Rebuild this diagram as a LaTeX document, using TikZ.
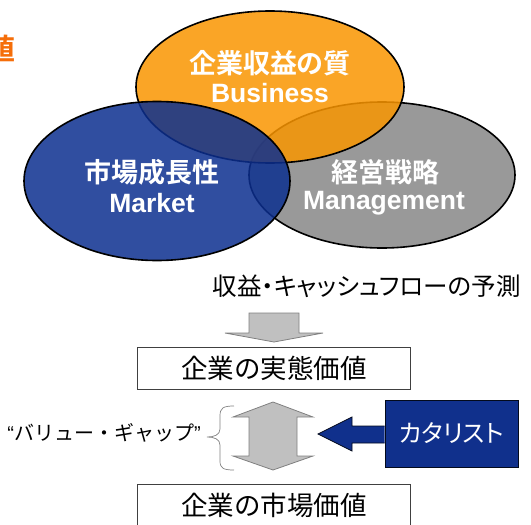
\documentclass[tikz,border=0pt]{standalone}
\usepackage{fontspec}
\setmainfont{Liberation Sans}
\newfontfamily\jp[BoldFont=* Bold]{Noto Sans CJK JP}
\newfontfamily\jpp[RawFeature=+palt]{Noto Sans CJK JP}
\usetikzlibrary{shapes.geometric}
\definecolor{vorange}{RGB}{249,149,0}
\definecolor{vblue}{RGB}{12,47,143}
\definecolor{vgrey}{RGB}{135,135,135}
\definecolor{arrgrey}{RGB}{192,192,192}
\definecolor{catblue}{RGB}{16,48,140}
\definecolor{headorange}{RGB}{245,110,10}
\begin{document}
\begin{tikzpicture}[x=1pt,y=-1pt,
  venn/.style={ellipse, draw=black, line width=1.6pt, fill opacity=0.85, inner sep=0pt},
  vjp/.style={text=white, inner sep=0pt, font=\jp\bfseries\fontsize{27}{30}\selectfont},
  ven/.style={text=white, inner sep=0pt, font=\bfseries\fontsize{26.5}{30}\selectfont},
  valbox/.style={draw=black!75, line width=0.8pt, fill=white, minimum width=273pt, minimum height=42pt, inner sep=0pt, font=\jp\fontsize{26.5}{30}\selectfont},
  garrow/.style={draw=black!50, line width=0.8pt, fill=arrgrey},
  plain/.style={inner sep=0pt, font=\jpp\fontsize{24.5}{28}\selectfont}
]
\useasboundingbox (0,0) rectangle (531,525);

% heading fragment
\node[anchor=east, inner sep=0pt, text=headorange, font=\jp\bfseries\fontsize{30}{32}\selectfont] (head) at (16,49) {値};

% Venn ellipses
\node[venn, fill=vgrey, minimum width=266pt, minimum height=146pt] (mgmt) at (382,175) {};
\node[venn, fill=vorange, minimum width=268pt, minimum height=152pt] (biz) at (270,87) {};
\node[venn, fill=vblue, minimum width=266pt, minimum height=159pt] (mkt) at (157,181) {};

\node[vjp] (bizj) at (270,63) {企業収益の質};
\node[ven] (bize) at (270,93) {Business};
\node[vjp] (mktj) at (152,172) {市場成長性};
\node[ven] (mkte) at (152,203) {Market};
\node[vjp] (mgmtj) at (385,172) {経営戦略};
\node[ven] (mgmte) at (384,203) {Management};

% forecast text
\node[plain, anchor=east] (fc) at (521,286) {収益・キャッシュフローの予測};

% down arrow
\draw[garrow] (249,313) -- (299,313) -- (299,333) -- (323,333) -- (274,342) -- (225,333) -- (249,333) -- cycle;

% value boxes
\node[valbox] (intr) at (274,368.5) {企業の実態価値};
\node[valbox] (mktv) at (274,505.5) {企業の市場価値};

% double arrow
\draw[garrow] (273,402) -- (313,417) -- (297,417) -- (297,456) -- (313,456) -- (273,470) -- (233,456) -- (249,456) -- (249,417) -- (233,417) -- cycle;

% brace
\draw[black!50, line width=0.7pt] (234,406) .. controls (223,406) and (220,408) .. (220,416) -- (220,429) .. controls (220,435) and (214,437) .. (207,437) .. controls (214,437) and (220,439) .. (220,445) -- (220,461) .. controls (220,468) and (223,470) .. (234,470);

\node[inner sep=0pt, anchor=east, font=\jp\fontsize{20}{24}\selectfont] (gap) at (201,433) {{\rmfamily “}バリュー・ギャップ{\rmfamily ”}};

% catalyst
\node[draw=black!80!catblue, line width=0.8pt, fill=catblue, minimum width=133pt, minimum height=67pt, inner sep=0pt, text=white, font=\jpp\fontsize{24.5}{28}\selectfont] (cat) at (451.5,433.5) {カタリスト};
\draw[draw=black!80!catblue, line width=0.8pt, fill=catblue] (cat.west |- 0,426) -- (352,426) -- (352,417) -- (318,434) -- (352,451) -- (352,443) -- (cat.west |- 0,443);
\end{tikzpicture}
\end{document}
